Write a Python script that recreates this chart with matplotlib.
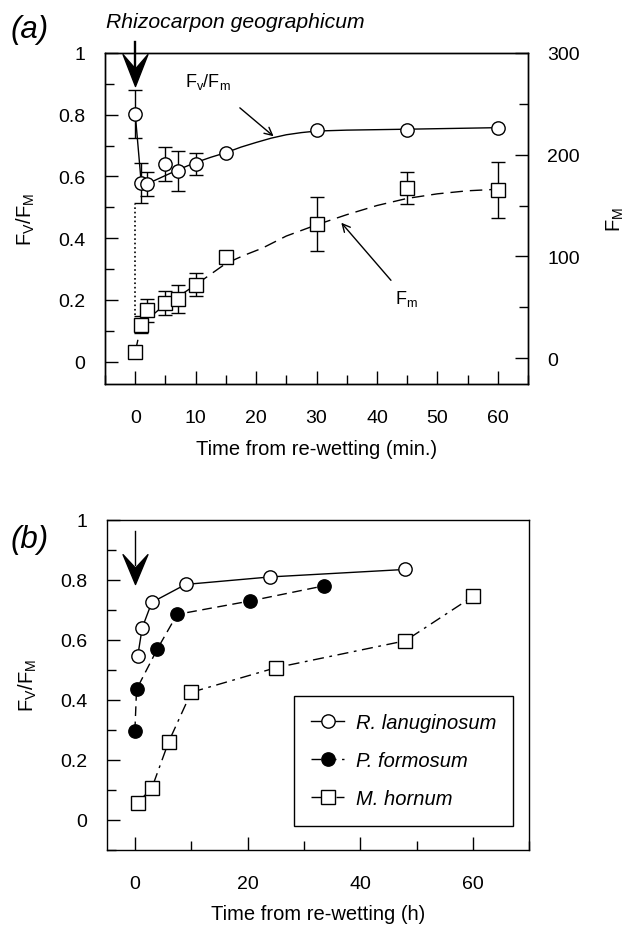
import matplotlib
matplotlib.use('Agg')
import matplotlib.pyplot as plt
import numpy as np
from matplotlib.path import Path
from matplotlib.ticker import MultipleLocator, FuncFormatter

plt.rcParams['font.family'] = ['Liberation Sans', 'DejaVu Sans']
plt.rcParams['mathtext.fontset'] = 'custom'
plt.rcParams['mathtext.rm'] = 'Liberation Sans'
plt.rcParams['mathtext.it'] = 'Liberation Sans:italic'
plt.rcParams['mathtext.default'] = 'regular'
plt.rcParams['axes.linewidth'] = 1.0

# ---- (a) Rhizocarpon geographicum, time in minutes ----
t_a = [0, 1, 2, 5, 7, 10, 15, 30, 45, 60]
fvfm_a = [0.803, 0.579, 0.576, 0.641, 0.619, 0.639, 0.676, 0.751, 0.751, 0.758]
fvfm_a_err = [0.077, 0.066, 0.039, 0.055, 0.065, 0.036, 0, 0, 0, 0]
fm_a = [6, 33, 47, 54, 58, 72, 99, 132, 167, 165]
fm_a_err = [0, 8.5, 11.5, 12, 13.5, 11.3, 0, 26.8, 15.6, 27.7]

# fitted curves
fit_fvfm_t = [0, 1, 2, 5, 7.5, 10, 12.5, 15, 17.5, 20, 22.5, 25, 27.5, 30, 35, 45, 60]
fit_fvfm_y = [0.803, 0.578, 0.576, 0.603, 0.625, 0.645, 0.662, 0.677, 0.695, 0.710,
              0.724, 0.735, 0.742, 0.747, 0.750, 0.753, 0.758]
fit_fm_t = [0, 1, 5, 7, 10, 15, 18, 21, 25, 30, 35, 40, 45, 50, 55, 60]
fit_fm_y = [6, 33, 53, 60, 72, 93, 101, 108, 120, 131, 141, 150, 157, 161.5, 164.5, 166]

# dotted drop at re-wetting (left-axis units)
drop_t = [0, 0]
drop_y = [0.15, 0.51]

# ---- (b) three species, time in hours ----
t_rl = [0.5, 1.3, 3, 9, 24, 48]
y_rl = [0.545, 0.64, 0.725, 0.785, 0.81, 0.835]
t_pf = [0, 0.3, 4, 7.5, 20.5, 33.5]
y_pf = [0.295, 0.435, 0.57, 0.685, 0.73, 0.78]
t_mh = [0.5, 3, 6, 10, 25, 48, 60]
y_mh = [0.057, 0.105, 0.26, 0.425, 0.507, 0.597, 0.745]

rewet_t = 0

fig = plt.figure(figsize=(6.28, 9.29), dpi=100)
ax = fig.add_axes([0.1672, 0.5861, 0.6736, 0.3558])
ax2 = ax.twinx()
bx = fig.add_axes([0.1699, 0.0843, 0.6729, 0.3549])

fmt = FuncFormatter(lambda v, p: '{:g}'.format(round(v, 2) + 0.0))
TICK = 14
LAB = 14.5


def notched_head(half_w, notch):
    return Path([(0, 0), (-half_w, 1), (0, notch), (half_w, 1), (0, 0)],
                [Path.MOVETO, Path.LINETO, Path.LINETO, Path.LINETO, Path.CLOSEPOLY])


# ---------- panel (a) ----------
ax.plot(fit_fvfm_t, fit_fvfm_y, '-', color='k', lw=1.0, zorder=2)
ax.plot(drop_t, drop_y, ':', color='k', lw=1.2, zorder=2)
e = np.array(fvfm_a_err)
m = e > 0
ax.errorbar(np.array(t_a)[m], np.array(fvfm_a)[m], yerr=e[m], fmt='none',
            ecolor='k', elinewidth=1, capsize=4.7, capthick=1, zorder=3)
ax.plot(t_a, fvfm_a, 'o', ms=9.6, mfc='white', mec='k', mew=1.0, zorder=4)

ax2.plot(fit_fm_t, fit_fm_y, color='k', lw=1.0, dashes=(9, 5), zorder=2)
e2 = np.array(fm_a_err)
m2 = e2 > 0
ax2.errorbar(np.array(t_a)[m2], np.array(fm_a)[m2], yerr=e2[m2], fmt='none',
             ecolor='k', elinewidth=1, capsize=4.7, capthick=1, zorder=3)
ax2.plot(t_a, fm_a, 's', ms=10, mfc='white', mec='k', mew=1.0, zorder=4)

ax.set_xlim(-5, 65)
ax.set_ylim(-0.071, 1)
ax2.set_ylim(-25, 300)

ax.xaxis.set_major_locator(MultipleLocator(10))
ax.xaxis.set_minor_locator(MultipleLocator(5))
ax.yaxis.set_major_locator(MultipleLocator(0.2))
ax.yaxis.set_minor_locator(MultipleLocator(0.1))
ax.yaxis.set_major_formatter(fmt)
ax2.yaxis.set_major_locator(MultipleLocator(100))
ax2.yaxis.set_minor_locator(MultipleLocator(50))

for a in (ax, ax2, bx):
    a.tick_params(which='both', direction='in', width=1, labelsize=TICK)
    a.tick_params(which='major', length=9.5)
    a.tick_params(which='minor', length=6.5)
    a.tick_params(axis='x', pad=18)
    a.tick_params(axis='y', pad=14)
ax.tick_params(which='both', top=False, right=False)
ax2.tick_params(which='both', left=False, labelleft=False, right=True)

ax.set_xlabel('Time from re-wetting (min.)', fontsize=LAB, labelpad=10)
ax.set_ylabel('F$_V$/F$_M$', fontsize=LAB, labelpad=15)
ax2.set_ylabel('F$_M$', fontsize=LAB, labelpad=18)

# re-wetting arrow (a)
ax.plot([rewet_t, rewet_t], [1.036, 0.95], color='k', lw=1.7, clip_on=False, zorder=5)
ax.plot([rewet_t], [0.893], marker=notched_head(0.39, 0.55), ms=46, color='k',
        mec='k', clip_on=False, zorder=5)

ax.annotate('F$_v$/F$_m$', xy=(22.9, 0.73), xytext=(8.2, 0.91),
            fontsize=13, va='center', ha='left',
            arrowprops=dict(arrowstyle='->', color='k', lw=1.0,
                            shrinkA=16, shrinkB=0, mutation_scale=14))
ax.annotate('F$_m$', xy=(34.1, 0.45), xytext=(43.0, 0.205),
            fontsize=13, va='center', ha='left',
            arrowprops=dict(arrowstyle='->', color='k', lw=1.0,
                            shrinkA=5, shrinkB=0, mutation_scale=14))

fig.text(11 / 628, 1 - 30 / 929, '(a)', fontsize=22.5, style='italic', va='center', ha='left')
fig.text(106 / 628, 1 - 23 / 929, 'Rhizocarpon geographicum', fontsize=15.2,
         style='italic', va='center', ha='left')

# ---------- panel (b) ----------
bx.plot(t_rl, y_rl, '-', color='k', lw=1.0, marker='o', ms=9.6, mfc='white',
        mec='k', mew=1.0, label='R. lanuginosum')
bx.plot(t_pf, y_pf, color='k', lw=1.0, dashes=(7, 4), marker='o', ms=9.6,
        mfc='k', mec='k', mew=1.0, label='P. formosum')
bx.plot(t_mh, y_mh, color='k', lw=1.0, dashes=(8, 4, 2, 4), marker='s', ms=10,
        mfc='white', mec='k', mew=1.0, label='M. hornum')

bx.set_xlim(-5, 70)
bx.set_ylim(-0.1, 1)
bx.xaxis.set_major_locator(MultipleLocator(20))
bx.xaxis.set_minor_locator(MultipleLocator(10))
bx.yaxis.set_major_locator(MultipleLocator(0.2))
bx.yaxis.set_minor_locator(MultipleLocator(0.1))
bx.yaxis.set_major_formatter(fmt)
bx.tick_params(which='both', top=False, right=False)

bx.set_xlabel('Time from re-wetting (h)', fontsize=LAB, labelpad=9)
bx.set_ylabel('F$_V$/F$_M$', fontsize=LAB, labelpad=15)

bx.plot([rewet_t, rewet_t], [0.964, 0.85], color='k', lw=1.0, zorder=5)
bx.plot([rewet_t], [0.787], marker=notched_head(0.417, 0.55), ms=43, color='k',
        mec='k', zorder=5)

leg = bx.legend(loc='lower right', bbox_to_anchor=(0.962, 0.073), borderaxespad=0,
                fancybox=False, edgecolor='k', framealpha=1, handlelength=1.6,
                handletextpad=0.6, labelspacing=0.95, borderpad=0.85,
                prop={'size': 14.5, 'style': 'italic'})
leg.get_frame().set_linewidth(1.0)

fig.text(11 / 628, 1 - 540 / 929, '(b)', fontsize=22.5, style='italic', va='center', ha='left')

fig.savefig('out.png', dpi=100)
